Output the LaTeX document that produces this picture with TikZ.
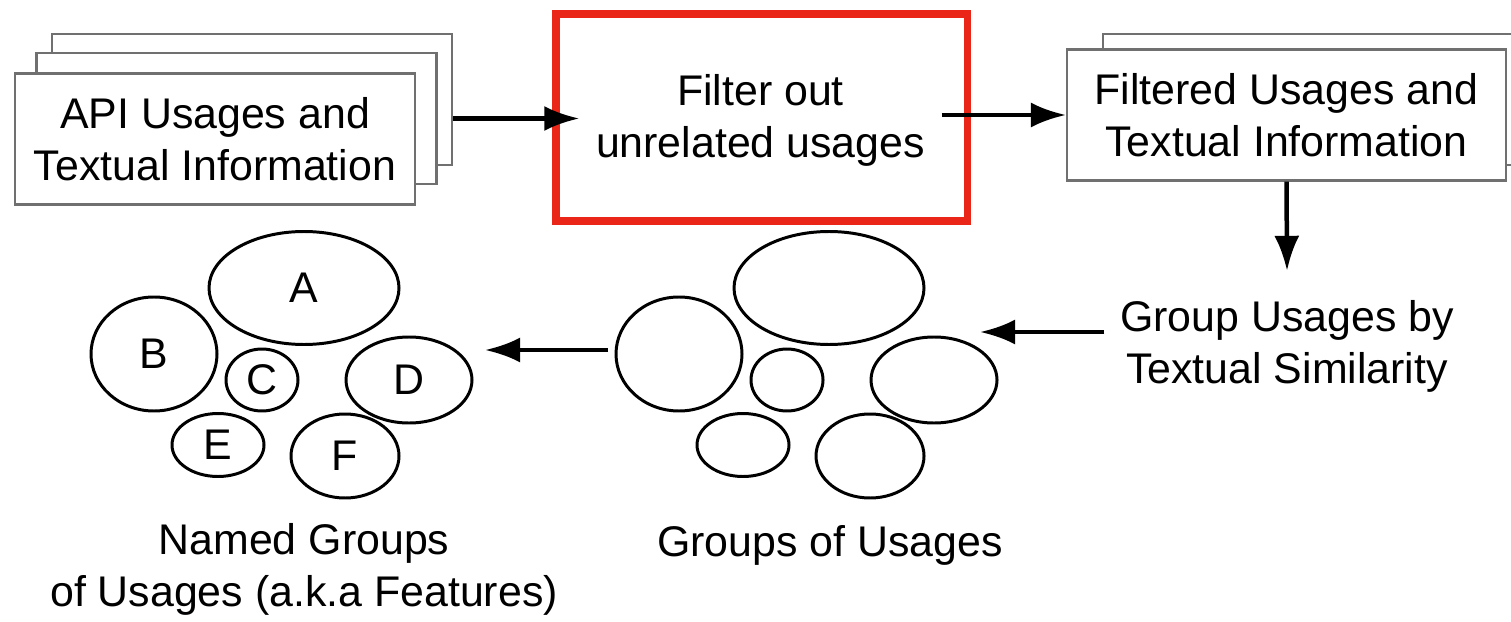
\documentclass[tikz,border=0pt]{standalone}
\usepackage{fontspec}
\setmainfont{Liberation Sans}
\usepackage{tikz}
\usepackage{xcolor}
\usetikzlibrary{arrows.meta, shapes.geometric, positioning}
\definecolor{boxgray}{RGB}{112,112,112}
\definecolor{hired}{RGB}{234,38,24}
\tikzset{
  % Graph arrow style
  garr/.style={
    line width = 0.45mm
  },
  % stacked document box
  docbox/.style={
    draw=boxgray, line width=0.6pt, fill=white,
    minimum width=4cm, minimum height=1.31cm, inner sep=0pt
  },
  % one group of usages
  grp/.style={
    ellipse, draw, line width=0.85pt, inner sep=0pt
  },
}

\begin{document}
\begin{tikzpicture}
          [txt/.style={font=\fontsize{12.2}{14.8}\selectfont, align=center}
          ]
          \useasboundingbox (0,0) rectangle (15.11,-6.21);

          % input documents
          \node (api3) [docbox] at (2.52,-0.995) {};
          \node (api2) [docbox
                       , xshift=-1.55mm, yshift=-1.9mm
                       ] at (api3) {};
          \node (api) [docbox, txt
                      , xshift=-2.15mm, yshift=-2.05mm
                      ] at (api2) {API Usages and\\Textual Information};

          % filtering step
          \node (filter) [txt
                         , minimum width=3.61cm
                         , minimum height=1.3cm
                         , inner sep=0pt
                         ] at (7.605,-1.20) {Filter out\\unrelated usages};
          \node (hilite) [draw=hired, line width=2pt
                         , minimum width=4.11cm
                         , minimum height=2.07cm
                         , inner sep=0pt
                         ] at (7.615,-1.175) {};

          % filtered documents
          \node (filt2) [docbox, minimum width=4.39cm] at (13.225,-0.995) {};
          \node (filt) [docbox, txt
                       , minimum width=4.39cm
                       , xshift=-3.6mm, yshift=-1.55mm
                       ] at (filt2) {Filtered Usages and\\Textual Information};

          % grouping step
          \node (group) [txt
                        , inner xsep=1.5mm
                        , inner ysep=2.9mm
                        ] at (12.87,-3.465) {Group Usages by\\Textual Similarity};

          % groups of usages
          \node (ga) [grp, minimum width=1.90cm, minimum height=1.13cm] at (8.29,-2.88) {};
          \node (gb) [grp, minimum width=1.26cm, minimum height=1.14cm] at (6.79,-3.54) {};
          \node (gc) [grp, minimum width=0.72cm, minimum height=0.62cm] at (7.87,-3.80) {};
          \node (gd) [grp, minimum width=1.26cm, minimum height=0.86cm] at (9.34,-3.80) {};
          \node (ge) [grp, minimum width=0.92cm, minimum height=0.63cm] at (7.43,-4.45) {};
          \node (gf) [grp, minimum width=1.08cm, minimum height=0.84cm] at (8.70,-4.56) {};
          \node (glbl) [txt] at (8.30,-5.45) {Groups of Usages};

          % named groups
          \node (na) [grp, txt, minimum width=1.90cm, minimum height=1.13cm] at (3.04,-2.88) {A};
          \node (nb) [grp, txt, minimum width=1.26cm, minimum height=1.14cm] at (1.54,-3.54) {B};
          \node (nc) [grp, txt, minimum width=0.72cm, minimum height=0.62cm] at (2.62,-3.80) {C};
          \node (nd) [grp, txt, minimum width=1.26cm, minimum height=0.86cm] at (4.09,-3.80) {D};
          \node (ne) [grp, txt, minimum width=0.92cm, minimum height=0.63cm] at (2.18,-4.45) {E};
          \node (nf) [grp, txt, minimum width=1.08cm, minimum height=0.84cm] at (3.45,-4.56) {F};
          \node (nlbl) [txt] at (3.04,-5.69) {Named Groups\\of Usages (a.k.a Features)};

          \coordinate (gin) at (9.80,-3.32);
          \coordinate (gout) at (6.08,-3.50);
          \coordinate (nin) at (4.85,-3.50);

          \draw[-{Latex[length=3.5mm,width=2.5mm]},garr] (api3.east |- api2.east) -- (filter.west |- api2.east);
          \draw[-{Latex[length=3.5mm,width=2.5mm]},garr] (filter.east |- filt.west) -- (filt.west);
          \draw[-{Latex[length=3.5mm,width=2.5mm]},garr] (filt.south) -- (group.north);
          \draw[-{Latex[length=3.5mm,width=2.5mm]},garr] (group.west |- gin) -- (gin);
          \draw[-{Latex[length=3.5mm,width=2.5mm]},garr] (gout) -- (nin);
      \end{tikzpicture}
\end{document}
